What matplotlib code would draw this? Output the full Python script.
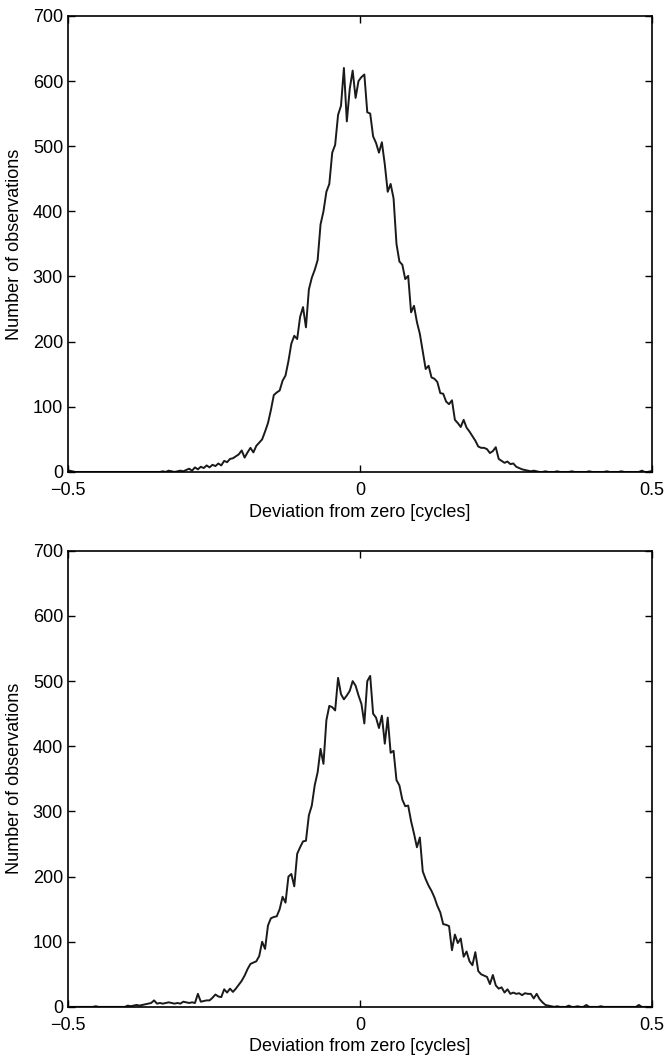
import numpy as np
import matplotlib
matplotlib.use("Agg")
import matplotlib.pyplot as plt

plt.rcParams['font.family'] = ['Liberation Sans', 'DejaVu Sans']

# histogram bins: 200 bins of width 0.005 from -0.5 to 0.5
bin_edges = np.linspace(-0.5, 0.5, 201)
centers = (bin_edges[:-1] + bin_edges[1:]) / 2

# counts per bin (one row = 0.1 cycles)
counts_top = [
    2, 1, 0, 0, 0, 0, 0, 0, 0, 0, 0, 0, 0, 0, 0, 0, 0, 0, 0, 0,
    0, 0, 0, 0, 0, 0, 0, 0, 0, 0, 0, 0, 1, 0, 2, 1, 0, 1, 2, 1,
    3, 5, 2, 7, 4, 8, 6, 10, 7, 11, 9, 13, 10, 17, 15, 20, 21, 24, 27, 33,
    22, 30, 37, 30, 40, 45, 50, 62, 75, 95, 118, 122, 125, 140, 148, 170, 197, 209, 204, 238,
    253, 222, 280, 298, 310, 325, 380, 400, 430, 442, 490, 502, 548, 562, 620, 538, 588, 616, 574, 600,
    606, 610, 552, 550, 515, 505, 490, 506, 472, 430, 442, 420, 350, 323, 318, 296, 301, 245, 255, 230,
    212, 185, 158, 163, 145, 143, 138, 121, 120, 108, 104, 110, 80, 75, 69, 80, 68, 62, 55, 48,
    39, 37, 37, 35, 29, 32, 38, 20, 17, 14, 16, 12, 13, 8, 6, 4, 3, 2, 1, 2,
    1, 0, 0, 1, 0, 0, 0, 1, 0, 0, 0, 0, 1, 0, 0, 0, 0, 0, 1, 0,
    0, 0, 0, 0, 1, 0, 0, 0, 0, 1, 0, 0, 0, 0, 0, 0, 2, 0, 0, 1,
]

counts_bottom = [
    0, 0, 0, 0, 0, 0, 0, 0, 0, 1, 0, 0, 0, 0, 0, 0, 0, 0, 0, 0,
    2, 1, 2, 3, 2, 3, 4, 5, 6, 10, 5, 6, 5, 6, 7, 6, 5, 6, 5, 8,
    7, 6, 7, 6, 20, 8, 9, 10, 10, 14, 19, 16, 15, 27, 22, 28, 23, 28, 34, 40,
    48, 58, 66, 68, 70, 78, 100, 89, 125, 136, 138, 139, 150, 169, 160, 200, 204, 185, 235, 245,
    254, 255, 294, 309, 340, 360, 396, 373, 440, 462, 460, 455, 505, 480, 472, 478, 485, 500, 493, 478,
    465, 435, 500, 508, 450, 444, 428, 447, 404, 444, 390, 393, 348, 340, 318, 308, 309, 285, 266, 245,
    260, 208, 196, 186, 178, 168, 155, 145, 127, 126, 124, 87, 111, 98, 105, 77, 85, 70, 64, 84,
    55, 50, 48, 46, 35, 49, 33, 28, 30, 22, 27, 20, 22, 20, 21, 18, 21, 20, 20, 13,
    20, 12, 7, 3, 2, 1, 0, 1, 0, 0, 0, 2, 0, 0, 1, 0, 0, 3, 0, 0,
    0, 0, 1, 0, 0, 0, 0, 0, 0, 0, 0, 0, 0, 0, 0, 3, 0, 0, 0, 0,
]

fig = plt.figure(figsize=(6.66, 10.57), dpi=100)
ax1 = fig.add_axes([0.102, 0.5535, 0.877, 0.4315])
ax2 = fig.add_axes([0.102, 0.0474, 0.877, 0.4315])

for ax, counts in [(ax1, counts_top), (ax2, counts_bottom)]:
    ax.plot(centers, counts, color='#1a1a1a', linewidth=1.4)
    ax.set_xlim(-0.5, 0.5)
    ax.set_ylim(0, 700)
    ax.set_xticks([-0.5, 0, 0.5])
    ax.set_xticklabels(['\u22120.5', '0', '0.5'])
    ax.set_yticks(range(0, 701, 100))
    ax.tick_params(direction='in', top=True, right=True, length=5,
                   width=1, labelsize=13)
    ax.tick_params(axis='x', pad=7.5)
    ax.tick_params(axis='y', pad=3.5)
    for s in ax.spines.values():
        s.set_linewidth(1.2)
    ax.set_xlabel("Deviation from zero [cycles]", fontsize=13, labelpad=3)
    ax.set_ylabel("Number of observations", fontsize=13, labelpad=7)

fig.savefig("out.png", dpi=100)
